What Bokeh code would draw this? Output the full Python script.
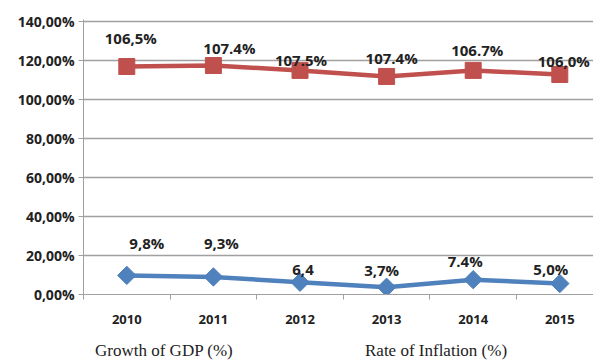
from bokeh.plotting import figure
from bokeh.models import Range1d, FixedTicker, ColumnDataSource, Div
from bokeh.layouts import column
from bokeh.core.properties import value
from bokeh.embed import file_html
from bokeh.resources import INLINE
import math

years = [2010, 2011, 2012, 2013, 2014, 2015]
gdp_series = [116.9, 117.4, 114.9, 111.8, 114.9, 112.8]
gdp_labels = ["106,5%", "107.4%", "107.5%", "107.4%", "106.7%", "106,0%"]
infl_series = [9.8, 9.0, 6.3, 3.7, 7.6, 5.6]
infl_labels = ["9,8%", "9,3%", "6,4", "3,7%", "7.4%", "5,0%"]
y_ticks = [0, 20, 40, 60, 80, 100, 120, 140]
y_tick_labels = ["0,00%", "20,00%", "40,00%", "60,00%", "80,00%", "100,00%", "120,00%", "140,00%"]
legend_names = ["Growth of GDP (%)", "Rate of Inflation (%)"]

# label offsets (pixels), style only
gdp_dx = [4, 16, 1, 5, 4, 4]
gdp_dy = [-29, -18, -10, -18, -20, -14]
infl_dx = [20, 8, 3, -5, -8, -9]
infl_dy = [-32, -34, -12, -17, -19, -15]

RED = "#C0504D"
BLUE = "#4F81BD"

p = figure(width=593, height=336, output_backend="svg", toolbar_location=None,
           x_range=Range1d(2009.5, 2009.5 + 510 / 86.6),
           y_range=Range1d(0, 141),
           min_border_left=83, min_border_right=0, min_border_top=19, min_border_bottom=42,
           margin=0)
p.outline_line_color = None
p.background_fill_color = "white"
p.border_fill_color = "white"

p.xgrid.visible = False
p.ygrid.ticker = FixedTicker(ticks=y_ticks)
p.ygrid.grid_line_color = "#A0A0A0"
p.ygrid.grid_line_width = 1.5

p.yaxis.ticker = FixedTicker(ticks=y_ticks)
p.yaxis.major_label_overrides = {t: l for t, l in zip(y_ticks, y_tick_labels)}
p.yaxis.axis_line_color = "#A0A0A0"
p.yaxis.major_tick_line_color = "#A0A0A0"
p.yaxis.major_tick_out = 5
p.yaxis.major_tick_in = 0
p.yaxis.minor_tick_line_color = None
p.yaxis.major_label_text_font = "Open Sans"
p.yaxis.major_label_text_font_style = "bold"
p.yaxis.major_label_text_font_size = "14px"
p.yaxis.major_label_text_color = "#222222"
p.yaxis.major_label_standoff = 4

p.xaxis.ticker = FixedTicker(ticks=years, minor_ticks=[y - 0.5 for y in years] + [years[-1] + 0.5])
p.xaxis.major_label_overrides = {y: str(y) for y in years}
p.xaxis.axis_line_color = "#A0A0A0"
p.xaxis.major_tick_line_color = None
p.xaxis.minor_tick_line_color = "#A0A0A0"
p.xaxis.minor_tick_out = 5
p.xaxis.minor_tick_in = 0
p.xaxis.major_label_text_font = "Open Sans"
p.xaxis.major_label_text_font_style = "bold"
p.xaxis.major_label_text_font_size = "13px"
p.xaxis.major_label_text_color = "#222222"
p.xaxis.major_label_standoff = 14

gdp_src = ColumnDataSource(dict(x=years, y=gdp_series, t=gdp_labels, dx=gdp_dx, dy=gdp_dy))
infl_src = ColumnDataSource(dict(x=years, y=infl_series, t=infl_labels, dx=infl_dx, dy=infl_dy))

p.line("x", "y", source=gdp_src, color=RED, line_width=4.5)
p.scatter("x", "y", source=gdp_src, marker="square", size=16, color=RED)
p.line("x", "y", source=infl_src, color=BLUE, line_width=4.5)
p.scatter("x", "y", source=infl_src, marker="square", size=13, angle=math.pi / 4, color=BLUE)

for src in (gdp_src, infl_src):
    p.text("x", "y", text="t", source=src, x_offset="dx", y_offset="dy",
           text_align="center", text_baseline="middle",
           text_font=value("Open Sans"), text_font_style="bold",
           text_font_size="15px", text_color="#222222")

span_style = ("position:absolute; top:3px; font-family:'Liberation Serif'; "
              "font-size:17px; color:#222222; white-space:nowrap;")
html = ('<div style="position:relative; width:593px; height:25px;">'
        f'<span style="{span_style} left:95px;">{legend_names[0]}</span>'
        f'<span style="{span_style} left:365px;">{legend_names[1]}</span>'
        '</div>')
legend_div = Div(text=html, width=593, height=25, margin=0)

layout = column(p, legend_div, spacing=0, margin=0)
open("out.html", "w").write(file_html(layout, INLINE))
